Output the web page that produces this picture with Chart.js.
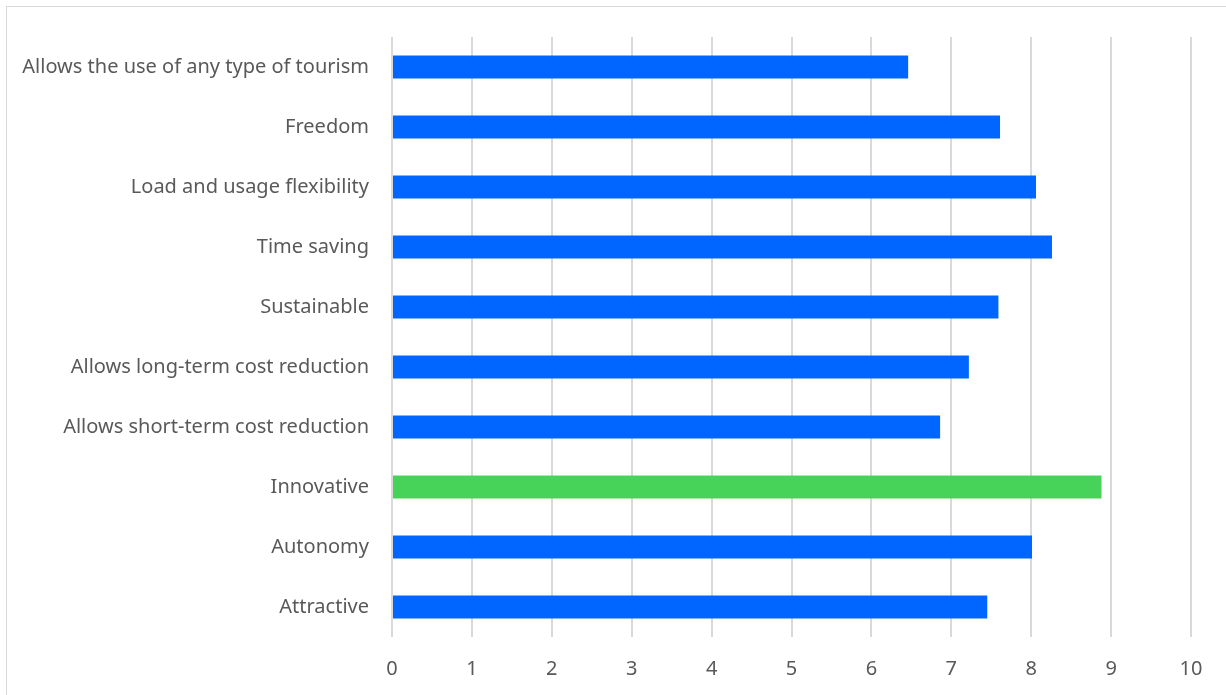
<!DOCTYPE html>
<html>
<head>
<meta charset="utf-8">
<script src="https://cdn.jsdelivr.net/npm/chart.js@4"></script>
<style>
    html, body { margin: 0; padding: 0; background: #fff; }
    #frame {
        position: absolute; left: 6px; top: 6px;
        width: 1240px; height: 720px;
        border: 1px solid #d9d9d9;
    }
    #wrap { position: absolute; left: 0; top: 0; width: 1226px; height: 695px; }
</style>
</head>
<body>
<div id="frame"></div>
<div id="wrap"><canvas id="attrChart"></canvas></div>
<script>
const attributes = [
    'Allows the use of any type of tourism',
    'Freedom',
    'Load and usage flexibility',
    'Time saving',
    'Sustainable',
    'Allows long-term cost reduction',
    'Allows short-term cost reduction',
    'Innovative',
    'Autonomy',
    'Attractive'
];
const scores = [6.46, 7.61, 8.06, 8.26, 7.59, 7.22, 6.86, 8.88, 8.01, 7.45];
const xTicks = [0, 1, 2, 3, 4, 5, 6, 7, 8, 9, 10];
const highlighted = 'Innovative';

const blue = '#0066ff';
const green = '#47d35a';
const textColor = '#595959';
const fontFamily = "'Noto Sans', 'Liberation Sans', sans-serif";

const ctx = document.getElementById('attrChart').getContext('2d');

new Chart(ctx, {
    type: 'bar',
    data: {
        labels: attributes,
        datasets: [{
            data: scores,
            backgroundColor: attributes.map(a => a === highlighted ? green : blue),
            borderWidth: 0,
            categoryPercentage: 1,
            barPercentage: 0.385
        }]
    },
    options: {
        indexAxis: 'y',
        responsive: true,
        maintainAspectRatio: false,
        animation: false,
        layout: { padding: { left: 0, top: 37, right: 35, bottom: 0 } },
        plugins: {
            legend: { display: false },
            tooltip: { enabled: false }
        },
        scales: {
            x: {
                min: 0,
                max: 10,
                afterBuildTicks: scale => { scale.ticks = xTicks.map(v => ({ value: v })); },
                afterFit: scale => { scale.height = 58; },
                border: { display: false },
                grid: { color: '#d9d9d9', lineWidth: 2, drawTicks: false },
                ticks: {
                    color: textColor,
                    padding: 20,
                    font: { family: fontFamily, size: 20 }
                }
            },
            y: {
                afterFit: scale => { scale.width = 392; },
                border: { display: false },
                grid: { display: false, drawTicks: false },
                ticks: {
                    color: textColor,
                    padding: 23,
                    font: { family: fontFamily, size: 20 }
                }
            }
        }
    }
});
</script>
</body>
</html>
